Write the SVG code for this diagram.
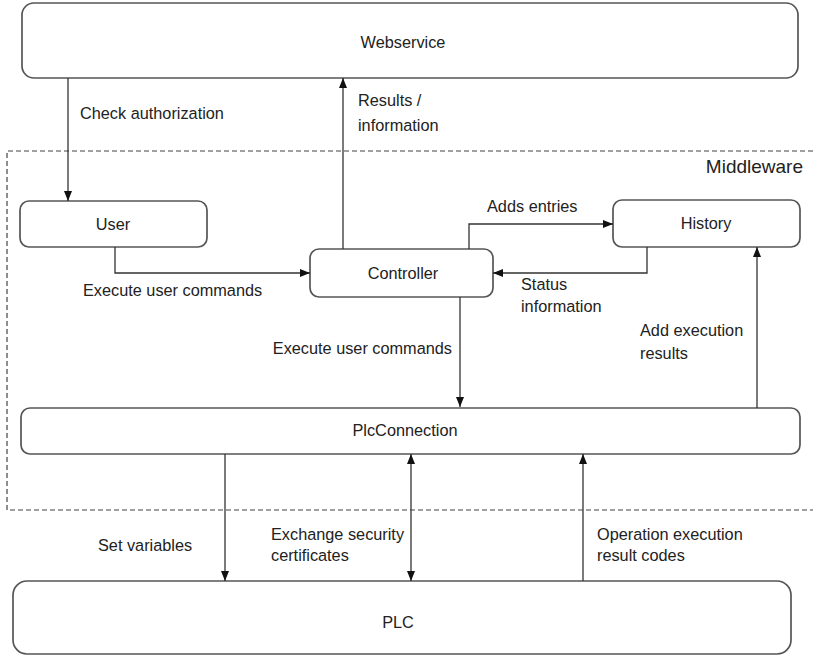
<svg xmlns="http://www.w3.org/2000/svg" width="813" height="656" viewBox="0 0 813 656">
<style>
.box{fill:#fff;stroke:#555;stroke-width:1.7}
.t{font-family:"Liberation Sans",Arial,sans-serif;font-size:16.3px;fill:#222}
.c{text-anchor:middle}
.e{text-anchor:end}
.ln{fill:none;stroke:#333;stroke-width:1.3}
</style>
<defs>
<marker id="ah" markerUnits="userSpaceOnUse" markerWidth="10" markerHeight="10" viewBox="0 0 10 10" refX="10" refY="5" orient="auto-start-reverse">
<path d="M0,1 L10,5 L0,9 z" fill="#111"/>
</marker>
</defs>
<rect width="813" height="656" fill="#fff"/>
<g id="middleware">
<path d="M813,151 H7 V510 H813" fill="none" stroke="#444" stroke-width="1.2" stroke-dasharray="5,3"/>
<text class="t e" x="803" y="173" style="font-size:19px">Middleware</text>
</g>
<g id="webservice">
<rect class="box" x="22" y="3" width="776" height="75" rx="12"/>
<text class="t c" x="403" y="48">Webservice</text>
</g>
<g id="user">
<rect class="box" x="20" y="201" width="187" height="46" rx="9"/>
<text class="t c" x="113" y="230">User</text>
</g>
<g id="controller">
<rect class="box" x="310" y="249" width="183" height="48" rx="9"/>
<text class="t c" x="403" y="279">Controller</text>
</g>
<g id="history">
<rect class="box" x="613" y="200" width="187" height="47" rx="9"/>
<text class="t c" x="706" y="229">History</text>
</g>
<g id="plcconnection">
<rect class="box" x="21" y="408" width="779" height="46" rx="9"/>
<text class="t c" x="405" y="436">PlcConnection</text>
</g>
<g id="plc">
<rect class="box" x="13" y="581" width="778" height="73" rx="14"/>
<text class="t c" x="398" y="628">PLC</text>
</g>
<g id="connectors">
<path class="ln" d="M68,78 V201" marker-end="url(#ah)"/>
<path class="ln" d="M343,249 V78" marker-end="url(#ah)"/>
<path class="ln" d="M115,247 V273 H310" marker-end="url(#ah)"/>
<path class="ln" d="M469,249 V224 H613" marker-end="url(#ah)"/>
<path class="ln" d="M647,247 V273 H493" marker-end="url(#ah)"/>
<path class="ln" d="M460,297 V407" marker-end="url(#ah)"/>
<path class="ln" d="M757,408 V247" marker-end="url(#ah)"/>
<path class="ln" d="M225,454 V581" marker-end="url(#ah)"/>
<path class="ln" d="M411,454 V581" marker-start="url(#ah)" marker-end="url(#ah)"/>
<path class="ln" d="M583,581 V454" marker-end="url(#ah)"/>
<text class="t" x="80" y="119">Check authorization</text>
<text class="t" x="358" y="106">Results /</text>
<text class="t" x="358" y="131">information</text>
<text class="t" x="487" y="212">Adds entries</text>
<text class="t" x="83" y="296">Execute user commands</text>
<text class="t" x="521" y="290">Status</text>
<text class="t" x="521" y="312">information</text>
<text class="t e" x="452" y="354">Execute user commands</text>
<text class="t" x="640" y="336">Add execution</text>
<text class="t" x="640" y="359">results</text>
<text class="t" x="98" y="551">Set variables</text>
<text class="t" x="271" y="540">Exchange security</text>
<text class="t" x="271" y="561">certificates</text>
<text class="t" x="597" y="540">Operation execution</text>
<text class="t" x="597" y="561">result codes</text>
</g>
</svg>
